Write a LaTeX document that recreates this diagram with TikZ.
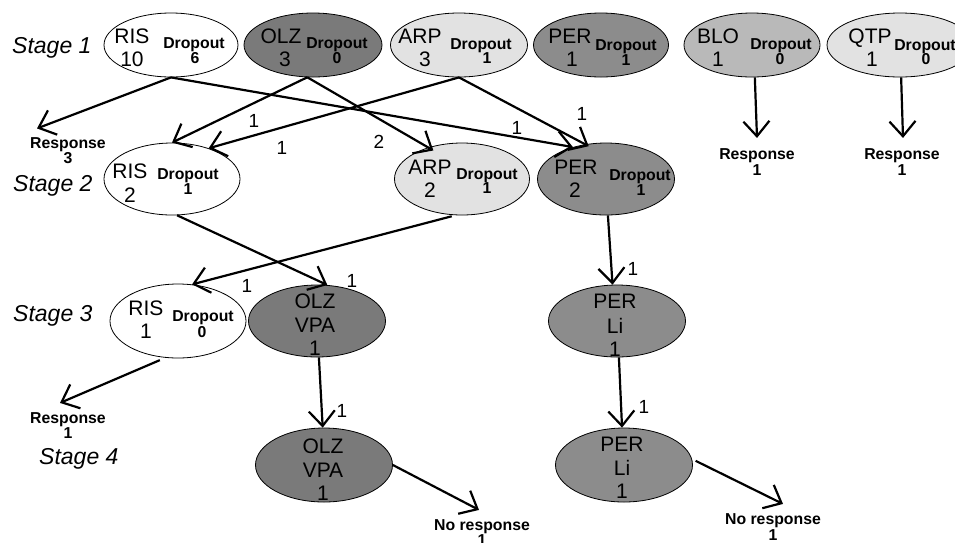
\documentclass[tikz,border=0pt]{standalone}
\usepackage{fontspec}
\setmainfont{Liberation Sans}
\usetikzlibrary{shapes.geometric,arrows.meta}
\definecolor{cdark}{HTML}{7A7A7A}
\definecolor{cdark2}{HTML}{8C8C8C}
\definecolor{cmid}{HTML}{B9B9B9}
\definecolor{clight}{HTML}{E2E2E2}
\begin{document}
\begin{tikzpicture}[x=1pt,y=-1pt,
 ell/.style={ellipse,draw,line width=0.8pt,inner sep=0pt},
 big/.style={font=\fontsize{21}{21}\selectfont,inner sep=0pt,anchor=base},
 bsm/.style={font=\bfseries\fontsize{15.8}{15.8}\selectfont,inner sep=0pt,anchor=base},
 stagelbl/.style={font=\itshape\fontsize{23}{23}\selectfont,inner sep=0pt,anchor=base west},
 elbl/.style={font=\fontsize{19}{19}\selectfont,inner sep=0pt,anchor=base},
 arr/.style={line width=2.2pt,-{Straight Barb[length=15pt,width=26pt]}}
]
\useasboundingbox (0,0) rectangle (955,542);

% stage labels
\node[stagelbl] (s1) at (12,53) {Stage 1};
\node[stagelbl] (s2) at (13,191) {Stage 2};
\node[stagelbl] (s3) at (13,321) {Stage 3};
\node[stagelbl] (s4) at (39,464) {Stage 4};

% stage 1 ellipses
\node[ell,minimum width=134pt,minimum height=64pt] (ris1) at (171,45) {};
\node[ell,fill=cdark,minimum width=138pt,minimum height=64pt] (olz1) at (313,45) {};
\node[ell,fill=clight,minimum width=137pt,minimum height=64pt] (arp1) at (459,45) {};
\node[ell,fill=cdark2,minimum width=135pt,minimum height=64pt] (per1) at (601,45) {};
\node[ell,fill=cmid,minimum width=136pt,minimum height=64pt] (blo1) at (752,45) {};
\node[ell,fill=clight,minimum width=146pt,minimum height=64pt] (qtp1) at (900,45) {};

\node[big] (ris1n) at (132,43) {RIS};
\node[big] (ris1c) at (132,66.5) {10};
\node[bsm] (ris1d) at (194,48.5) {Dropout};
\node[bsm] (ris1e) at (195,63) {6};

\node[big] (olz1n) at (281,43) {OLZ};
\node[big] (olz1c) at (285,66.5) {3};
\node[bsm] (olz1d) at (337,48.5) {Dropout};
\node[bsm] (olz1e) at (337,63) {0};

\node[big] (arp1n) at (420,43) {ARP};
\node[big] (arp1c) at (425,66.5) {3};
\node[bsm] (arp1d) at (481,49) {Dropout};
\node[bsm] (arp1e) at (487,63.5) {1};

\node[big] (per1n) at (570,43.5) {PER};
\node[big] (per1c) at (572,66.5) {1};
\node[bsm] (per1d) at (626,50.5) {Dropout};
\node[bsm] (per1e) at (626,65) {1};

\node[big] (blo1n) at (718,43) {BLO};
\node[big] (blo1c) at (718,66.5) {1};
\node[bsm] (blo1d) at (781,49.5) {Dropout};
\node[bsm] (blo1e) at (780,64) {0};

\node[big] (qtp1n) at (870,43.5) {QTP};
\node[big] (qtp1c) at (872,66.5) {1};
\node[bsm] (qtp1d) at (925,50) {Dropout};
\node[bsm] (qtp1e) at (926,64.5) {0};

% stage 2
\node[ell,minimum width=136pt,minimum height=72pt] (ris2) at (172,179) {};
\node[ell,fill=clight,minimum width=135pt,minimum height=72pt] (arp2) at (462,179) {};
\node[ell,fill=cdark2,minimum width=137pt,minimum height=72pt] (per2) at (606,179) {};

\node[big] (ris2n) at (130,178.3) {RIS};
\node[big] (ris2c) at (130,202) {2};
\node[bsm] (ris2d) at (188,179.5) {Dropout};
\node[bsm] (ris2e) at (188,194.5) {1};

\node[big] (arp2n) at (430,174) {ARP};
\node[big] (arp2c) at (430,197.5) {2};
\node[bsm] (arp2d) at (487,179) {Dropout};
\node[bsm] (arp2e) at (487,193.5) {1};

\node[big] (per2n) at (576,174) {PER};
\node[big] (per2c) at (575,197.5) {2};
\node[bsm] (per2d) at (640,180) {Dropout};
\node[bsm] (per2e) at (641,195) {1};

% stage 3
\node[ell,minimum width=136pt,minimum height=74pt] (ris3) at (178,321) {};
\node[ell,fill=cdark,minimum width=137pt,minimum height=72pt] (olz3) at (317,321) {};
\node[ell,fill=cdark2,minimum width=137pt,minimum height=72pt] (per3) at (617,321) {};

\node[big] (ris3n) at (146,315) {RIS};
\node[big] (ris3c) at (146,338) {1};
\node[bsm] (ris3d) at (203,321) {Dropout};
\node[bsm] (ris3e) at (202,337) {0};

\node[big] (olz3n) at (315,308) {OLZ};
\node[big] (olz3v) at (315,332) {VPA};
\node[big] (olz3c) at (315,355.5) {1};

\node[big] (per3n) at (615,308) {PER};
\node[big] (per3v) at (615,333) {Li};
\node[big] (per3c) at (615,356.5) {1};

% stage 4
\node[ell,fill=cdark,minimum width=137pt,minimum height=74pt] (olz4) at (324,465) {};
\node[ell,fill=cdark2,minimum width=137pt,minimum height=74pt] (per4) at (624,465) {};

\node[big] (olz4n) at (323,453) {OLZ};
\node[big] (olz4v) at (323,477) {VPA};
\node[big] (olz4c) at (323,500.5) {1};

\node[big] (per4n) at (622,451) {PER};
\node[big] (per4v) at (622,475) {Li};
\node[big] (per4c) at (622,498.5) {1};

% outcome labels
\node[bsm] (r1a) at (68,148.5) {Response};
\node[bsm] (r1b) at (68,163.5) {3};
\node[bsm] (rba) at (757,159) {Response};
\node[bsm] (rbb) at (757,175) {1};
\node[bsm] (rqa) at (902,159) {Response};
\node[bsm] (rqb) at (902,175) {1};
\node[bsm] (r3a) at (68,423) {Response};
\node[bsm] (r3b) at (68,438) {1};
\node[bsm] (n1a) at (482,530) {No response};
\node[bsm] (n1b) at (482,545) {1};
\node[bsm] (n2a) at (773,524) {No response};
\node[bsm] (n2b) at (773,540) {1};

% edge labels
\node[elbl] (e1) at (254,127) {1};
\node[elbl] (e2) at (282,154) {1};
\node[elbl] (e3) at (379,148) {2};
\node[elbl] (e4) at (517,134) {1};
\node[elbl] (e5) at (582,120) {1};
\node[elbl] (e6) at (352,287) {1};
\node[elbl] (e7) at (247,292) {1};
\node[elbl] (e8) at (633,275) {1};
\node[elbl] (e9) at (342,417) {1};
\node[elbl] (e10) at (644,413) {1};

% connectors
\draw[arr] (ris1.south) -- ([xshift=-31pt,yshift=9pt]r1a.north);
\draw[arr] (ris1.south) -- (per2.136);
\draw[arr] (olz1.260) -- (ris2.north);
\draw[arr,shorten >=-6pt] (olz1.260) -- (arp2.137);
\draw[arr] (arp1.south) -- (ris2.40);
\draw[arr,shorten >=-4pt] (arp1.south) -- (per2.121);
\draw[arr] (ris2.278) -- (olz3.74);
\draw[arr,shorten <=4pt] (arp2.260) -- (ris3.69);
\draw[arr] (per2.273) -- (per3.97);
\draw[arr] (olz3.273) -- (olz4.92);
\draw[arr] (per3.273) -- (per4.93);
\draw[arr,shorten <=6pt] (ris3.251) -- ([xshift=-8pt,yshift=9pt]r3a.north);
\draw[arr] (olz4.east) -- ([xshift=-3pt,yshift=9pt]n1a.north);
\draw[arr,shorten <=4pt] (per4.5) -- ([xshift=10pt,yshift=9pt]n2a.north);
\draw[arr] (blo1.275) -- ([yshift=10pt]rba.north);
\draw[arr] (qtp1.272) -- ([xshift=1pt,yshift=10pt]rqa.north);
\end{tikzpicture}
\end{document}
